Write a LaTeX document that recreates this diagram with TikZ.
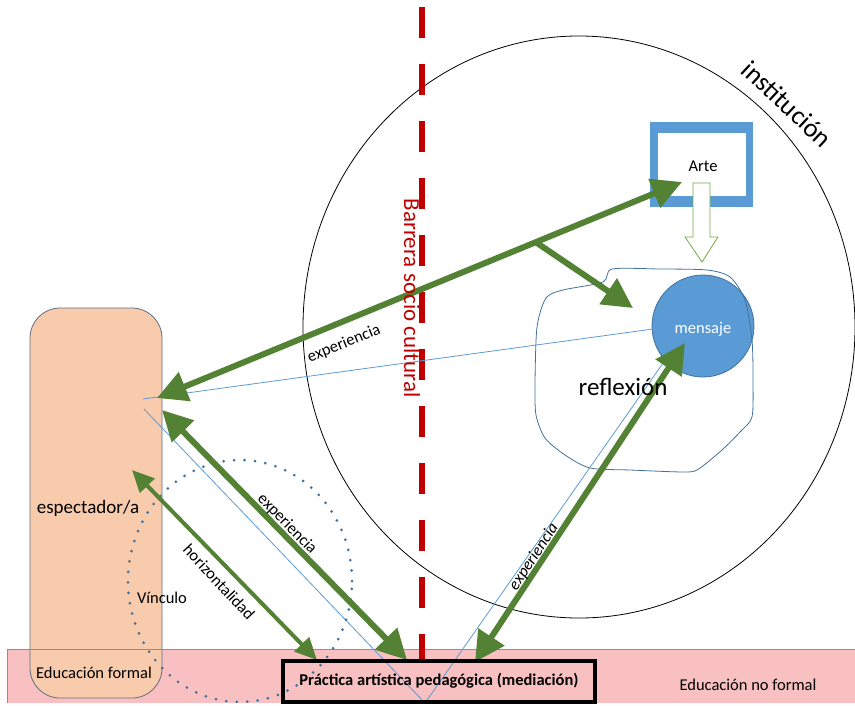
\documentclass[tikz,border=0pt]{standalone}
\usepackage{fontspec}
\setmainfont{Carlito}
\usetikzlibrary{arrows.meta,shapes.geometric}
\definecolor{grn}{HTML}{548235}
\definecolor{lgrn}{HTML}{70AD47}
\definecolor{blu}{HTML}{5B9BD5}
\definecolor{dblu}{HTML}{41719C}
\definecolor{peach}{HTML}{F8CBAD}
\definecolor{pinkc}{HTML}{F8C0C0}
\definecolor{redc}{HTML}{C00000}
\definecolor{slate}{HTML}{5E6E84}
\tikzset{
  thinblue/.style={draw=blu, line width=0.8pt},
  garrow/.style={draw=grn, line width=6pt},
  bighead/.style={{Triangle[length=30pt,width=30pt]}-{Triangle[length=30pt,width=30pt]}},
  onehead/.style={-{Triangle[length=30pt,width=30pt]}},
  smallhead/.style={{Triangle[length=22pt,width=20pt]}-{Triangle[length=22pt,width=20pt]}},
  lbl/.style={font=\fontsize{16.5}{18}\selectfont, inner sep=0pt},
}
\begin{document}
\begin{tikzpicture}[x=1pt,y=-1pt]
\useasboundingbox (0,0) rectangle (855,705);
% band
\fill[pinkc] (7,649) rectangle (855,703);
% peach rounded rectangle
\node[draw=slate, line width=0.8pt, fill=peach, rounded corners=30pt, minimum width=132pt, minimum height=390pt, inner sep=0pt] (esp) at (96,503) {};
\draw[thinblue] (7,703) -- (7,649) -- (855,649);
% institution ellipse
\node[draw=black, line width=0.8pt, ellipse, minimum width=552pt, minimum height=582pt, inner sep=0pt] (inst) at (579,327) {};
% red barrier
\coordinate (rtop) at (422,7);
\coordinate (rbot) at (422,662);
\draw[redc, line width=6pt, dash pattern=on 31pt off 26pt] (rtop) -- (rbot);
% mensaje circle
\node[circle, fill=blu, draw=dblu, line width=0.8pt, minimum size=102pt, inner sep=0pt] (msg) at (703,326) {};
% reflexion blob
\draw[dblu, line width=0.8pt] plot[smooth cycle, tension=0.45] coordinates {
(612,269) (660,269) (707,270) (730,277) (745,300) (752,340) (753,380) (752,417)
(740,432) (722,450) (700,468) (687,472) (630,470) (590,468) (565,455) (545,438)
(536,415) (535,383) (537,327) (546,298) (563,290) (603,282)};
% Arte box
\fill[blu] (650,122) rectangle (753,207);
\fill[white] (658,133) rectangle (746,196);
\node[font=\fontsize{16.5}{18}\selectfont, inner sep=0pt] (arte) at (703,166) {Arte};
% hollow arrow
\draw[lgrn, fill=white, line width=0.8pt] (693,183) -- (710,183) -- (710,237) -- (718,237) -- (702,262) -- (685,237) -- (693,237) -- cycle;
% thin blue lines
\coordinate (ba) at (143,399);
\coordinate (bb) at (144,409);
\coordinate (bv) at (425,703);
\coordinate (bm) at (668,356);
\coordinate (bw) at (653,329);
\draw[thinblue] (ba) -- (bw);
\draw[thinblue] (bb) -- (bv) -- (bm);
% dotted circle
\draw[dblu, line width=3pt, line cap=round, dash pattern=on 0pt off 10.5pt] (240,581) ellipse [x radius=112pt, y radius=121pt];
% green arrows
\coordinate (e1) at (157,398);
\coordinate (a1) at (682,182);
\coordinate (br) at (537,243);
\coordinate (rt) at (633,308);
\coordinate (e2) at (162,410);
\coordinate (p2) at (407,660);
\coordinate (e3) at (132,470);
\coordinate (p3) at (317,660);
\coordinate (p4) at (475,662);
\coordinate (m4) at (685,343);
\draw[garrow, bighead] (e1) -- (a1);
\draw[garrow, onehead] (br) -- (rt);
\draw[garrow, bighead] (e2) -- (p2);
\draw[grn, line width=4pt, smallhead] (e3) -- (p3);
\draw[garrow, bighead] (p4) -- (m4);
% labels
\node[lbl, rotate=22] (x1) at (344,344) {experiencia};
\node[lbl, rotate=-45.6] (x2) at (287,524) {experiencia};
\node[lbl, rotate=-47] (x3) at (219,582) {horizontalidad};
\node[lbl, rotate=56.6, font=\fontsize{16.5}{18}\selectfont\itshape] (x4) at (534,557) {experiencia};
\node[lbl] (vin) at (162,598) {Vínculo};
\node[font=\fontsize{19}{21}\selectfont, inner sep=0pt] (espl) at (88,508) {espectador/a};
\node[lbl] (ef) at (94,673) {Educación formal};
\node[lbl] (enf) at (748,685) {Educación no formal};
\node[font=\fontsize{16.5}{18}\selectfont, text=white, inner sep=0pt] (msgl) at (703,329) {mensaje};
\node[font=\fontsize{25}{28}\selectfont, inner sep=0pt] (refl) at (623,387) {reflexión};
\node[font=\fontsize{26.5}{29}\selectfont, inner sep=0pt, rotate=-43] (instl) at (787,104) {institución};
\node[font=\fontsize{23}{26}\selectfont, text=redc, inner sep=0pt, rotate=-90] (barr) at (412,298) {Barrera socio cultural};
% practica box
\node[draw=black, line width=4pt, minimum width=312pt, minimum height=41pt, inner sep=0pt,
      font=\fontsize{16.5}{18}\selectfont\bfseries] (prac) at (439,681) {Práctica artística pedagógica (mediación)};
\end{tikzpicture}
\end{document}
